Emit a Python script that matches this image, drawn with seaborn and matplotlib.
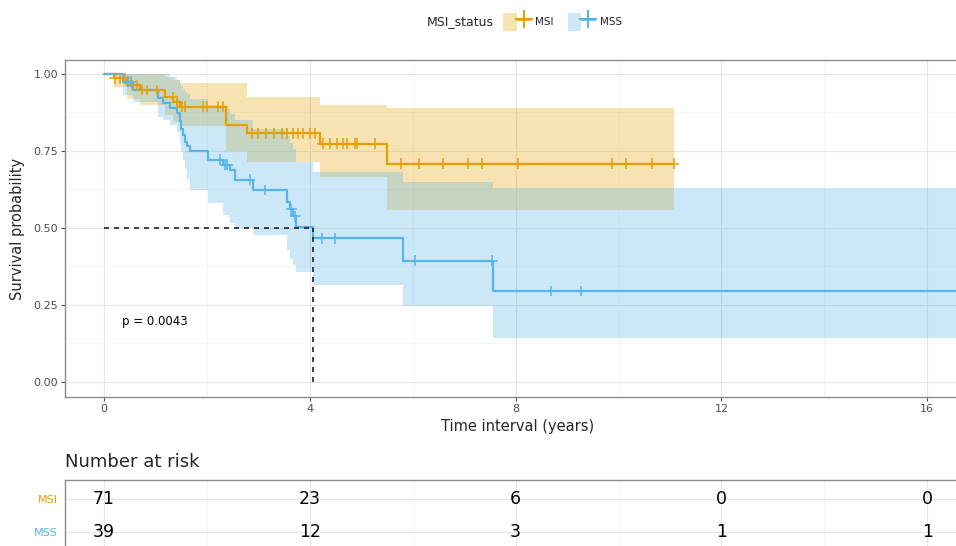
import numpy as np
import pandas as pd
import matplotlib
matplotlib.use("Agg")
import matplotlib.pyplot as plt
import seaborn as sns
from matplotlib.lines import Line2D
from matplotlib.patches import Patch
from matplotlib.legend_handler import HandlerTuple

# --- data ---
groups = ["MSI", "MSS"]

msi_time = [0, 0.2, 0.45, 0.7, 1.18, 1.35, 1.47, 2.38, 2.77, 4.19, 5.51]
msi_surv = [1.0, 0.985, 0.964, 0.948, 0.925, 0.909, 0.893, 0.834, 0.807, 0.773, 0.708]
msi_upper = [1.0, 1.0, 1.0, 1.0, 0.99, 0.98, 0.97, 0.97, 0.925, 0.9, 0.89]
msi_lower = [1.0, 0.957, 0.92, 0.9, 0.868, 0.845, 0.83, 0.75, 0.715, 0.665, 0.558]
msi_censor = [0.21, 0.31, 0.41, 0.54, 0.64, 0.74, 0.83, 1.03, 1.34, 1.42, 1.51, 1.57,
              1.92, 2.0, 2.21, 2.31, 2.87, 3.0, 3.15, 3.3, 3.45, 3.55, 3.67, 3.77,
              3.87, 4.0, 4.1, 4.25, 4.39, 4.52, 4.64, 4.72, 4.87, 4.91, 5.26, 5.78,
              6.12, 6.59, 7.07, 7.35, 8.04, 9.87, 10.15, 10.65, 11.07]
msi_end = 11.07

mss_time = [0, 0.37, 0.56, 1.05, 1.15, 1.28, 1.41, 1.47, 1.50, 1.53, 1.57, 1.62, 1.68,
            2.02, 2.31, 2.45, 2.55, 2.9, 3.55, 3.62, 3.68, 3.74, 4.06, 5.82, 7.57]
mss_surv = [1.0, 0.974, 0.949, 0.923, 0.905, 0.89, 0.872, 0.846, 0.821, 0.8, 0.78, 0.765,
            0.748, 0.721, 0.705, 0.688, 0.656, 0.623, 0.585, 0.56, 0.537, 0.502, 0.466,
            0.394, 0.295]
mss_upper = [1.0, 1.0, 1.0, 1.0, 1.0, 0.99, 0.98, 0.97, 0.96, 0.95, 0.94, 0.935, 0.92,
             0.9, 0.885, 0.87, 0.85, 0.82, 0.797, 0.775, 0.755, 0.715, 0.683, 0.65, 0.629]
mss_lower = [1.0, 0.93, 0.909, 0.86, 0.85, 0.834, 0.81, 0.78, 0.75, 0.72, 0.69, 0.66,
             0.623, 0.58, 0.542, 0.516, 0.5, 0.477, 0.429, 0.4, 0.38, 0.358, 0.315,
             0.245, 0.143]
mss_censor = [0.47, 0.52, 2.25, 2.35, 2.4, 2.83, 3.12, 3.64, 3.72, 4.23, 4.49, 6.04,
              7.55, 8.68, 9.27]
mss_end = 17.5

risk_times = [0, 4, 8, 12, 16]
msi_risk = [71, 23, 6, 0, 0]
mss_risk = [39, 12, 3, 1, 1]
p_text = "p = 0.0043"

palette = {"MSI": "#E69F00", "MSS": "#56B4E9"}

curves = {
    "MSI": (msi_time, msi_surv, msi_lower, msi_upper, msi_censor, msi_end),
    "MSS": (mss_time, mss_surv, mss_lower, mss_upper, mss_censor, mss_end),
}

# build long tables for seaborn
line_rows, cens_rows = [], []
for g, (t, s, lo, up, cens, end) in curves.items():
    for ti, si in zip(list(t) + [end], list(s) + [s[-1]]):
        line_rows.append({"time": ti, "surv": si, "group": g})
    for c in cens:
        idx = np.searchsorted(t, c, side="right") - 1
        cens_rows.append({"time": c, "surv": s[idx], "group": g})
df_line = pd.DataFrame(line_rows)
df_cens = pd.DataFrame(cens_rows)

sns.set_theme(style="white")
plt.rcParams["font.family"] = ["DejaVu Sans"]

W, H = 956, 546
fig = plt.figure(figsize=(W / 100, H / 100), dpi=100)
x_left = (65 - 104) / 51.45
x_right = (970 - 104) / 51.45

ax = fig.add_axes([65 / W, 1 - 397 / H, (970 - 65) / W, 337 / H])

# confidence bands
for g, (t, s, lo, up, cens, end) in curves.items():
    te = list(t) + [end]
    ax.fill_between(te, list(lo) + [lo[-1]], list(up) + [up[-1]], step="post",
                    color=palette[g], alpha=0.3, lw=0, zorder=1)

sns.lineplot(data=df_line, x="time", y="surv", hue="group", palette=palette,
             estimator=None, drawstyle="steps-post", lw=1.6, legend=False, ax=ax, zorder=3)
sns.scatterplot(data=df_cens, x="time", y="surv", hue="group", palette=palette,
                marker="+", s=60, linewidth=1.1, legend=False, ax=ax, zorder=4)

# median line
mss_arr = np.array(mss_surv)
med = mss_time[int(np.argmax(mss_arr < 0.5))]
ax.plot([0, med], [0.5, 0.5], color="#222222", ls=(0, (3, 3)), lw=1.2, zorder=5)
ax.plot([med, med], [0, 0.5], color="#222222", ls=(0, (3, 3)), lw=1.2, zorder=5)

ax.text(0.35, 0.195, p_text, fontsize=8.5, va="center", ha="left", color="black")

ax.set_xlim(x_left, x_right)
ax.set_ylim(-0.049, 1.045)
ax.set_xticks(risk_times)
ax.set_xticks([2, 6, 10, 14], minor=True)
ax.set_yticks([0, 0.25, 0.5, 0.75, 1.0])
ax.set_yticklabels(["0.00", "0.25", "0.50", "0.75", "1.00"])
ax.set_yticks([0.125, 0.375, 0.625, 0.875], minor=True)
ax.grid(which="major", color="#e6e6e6", lw=0.8, zorder=0)
ax.grid(which="minor", color="#f2f2f2", lw=0.5, zorder=0)
ax.set_axisbelow(True)
ax.tick_params(which="major", direction="out", length=3, width=0.8, color="#555555",
               labelsize=8, labelcolor="#4d4d4d", bottom=True, left=True, pad=2)
ax.tick_params(which="minor", length=0)
for sp in ax.spines.values():
    sp.set_color("#8c8c8c")
    sp.set_linewidth(1)
ax.set_xlabel("Time interval (years)", fontsize=10.5, labelpad=4)
ax.set_ylabel("Survival probability", fontsize=10.5, labelpad=6)

# legend
fig.text(427 / W, 1 - 22 / H, "MSI_status", fontsize=9, va="center", ha="left")
handles = [(Patch(facecolor=palette[g], alpha=0.3, lw=0),
            Line2D([], [], color=palette[g], lw=1.8, marker="+", markersize=13, mew=1.4))
           for g in groups]
fig.legend(handles, groups, loc="center left", bbox_to_anchor=(498 / W, 1 - 22 / H),
           ncol=2, frameon=False, fontsize=7.5, handlelength=2.6, handleheight=2.4,
           handletextpad=0.5, columnspacing=1.3, borderpad=0,
           handler_map={tuple: HandlerTuple(ndivide=None, pad=0)})

# number at risk table
fig.text(65 / W, 1 - 462 / H, "Number at risk", fontsize=13, va="center", ha="left")
ax2 = fig.add_axes([65 / W, 1 - 551 / H, (970 - 65) / W, 71 / H])
ax2.set_xlim(x_left, x_right)
ax2.set_ylim(-0.58, 1.58)
ax2.set_xticks(risk_times)
ax2.set_xticks([2, 6, 10, 14], minor=True)
ax2.set_yticks([1, 0])
ax2.set_yticklabels(groups)
for lab, g in zip(ax2.get_yticklabels(), groups):
    lab.set_color(palette[g])
ax2.tick_params(axis="y", direction="out", length=3, color="#555555", labelsize=8, pad=2)
ax2.tick_params(axis="x", which="both", length=0, labelbottom=False)
ax2.grid(which="major", color="#e6e6e6", lw=0.8)
ax2.grid(which="minor", axis="x", color="#f2f2f2", lw=0.5)
ax2.set_axisbelow(True)
for sp in ax2.spines.values():
    sp.set_color("#8c8c8c")
    sp.set_linewidth(1)
for row, vals in zip([1, 0], [msi_risk, mss_risk]):
    for t, v in zip(risk_times, vals):
        ax2.text(t, row, str(v), fontsize=12.5, ha="center", va="center", color="black")

fig.savefig("out.png", dpi=100)
